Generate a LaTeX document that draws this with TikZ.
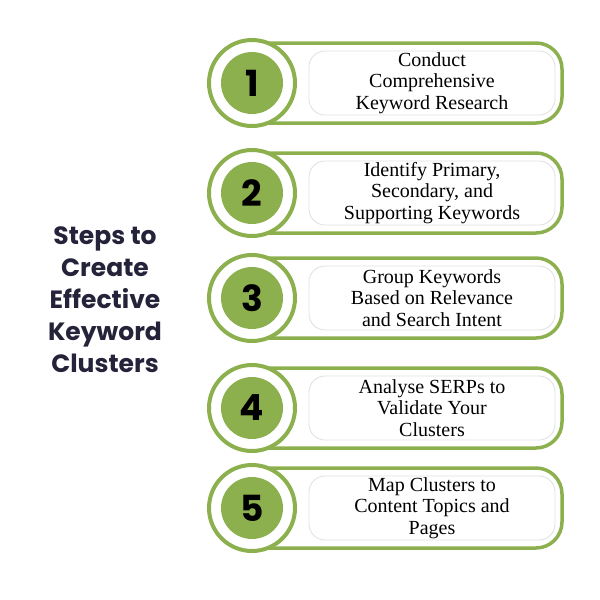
\documentclass[tikz,border=0pt]{standalone}
\usepackage{fontspec}
\setmainfont{Liberation Serif}
\newfontfamily\pop{Poppins}
\definecolor{grn}{HTML}{8DB04F}
\definecolor{ttl}{HTML}{24233A}
\begin{document}
\begin{tikzpicture}[x=1pt,y=-1pt,
 outer/.style={draw=grn,line width=3.5pt,fill=white,rounded corners=26pt},
 inner/.style={draw=black!12,line width=0.8pt,fill=white,rounded corners=16pt,minimum width=246pt,minimum height=64pt,align=center,font=\fontsize{20}{21.5}\selectfont,inner sep=0pt},
 ring/.style={circle,draw=grn,line width=4pt,fill=white,minimum size=86pt},
 disk/.style={circle,fill=grn,minimum size=62pt,font=\pop\bfseries\fontsize{36}{36}\selectfont,text=black,inner sep=0pt}]
\useasboundingbox (0,0) rectangle (600,600);
\node[font=\pop\bfseries\fontsize{25}{32}\selectfont,text=ttl,align=center] (title) at (105,300) {Steps to\\Create\\Effective\\Keyword\\Clusters};
\foreach \i/\y/\t in {1/83/{Conduct\\Comprehensive\\Keyword Research},
 2/193/{Identify Primary,\\Secondary, and\\Supporting Keywords},
 3/298/{Group Keywords\\Based on Relevance\\and Search Intent},
 4/408/{Analyse SERPs to\\Validate Your\\Clusters},
 5/508/{Map Clusters to\\Content Topics and\\Pages}}{
 \draw[outer] (230,\y-40) rectangle (562,\y+40);
 \node[inner] (box\i) at (432,\y) {\t};
 \node[ring] (ring\i) at (252,\y) {};
 \node[disk] (num\i) at (252,\y) {\i};
}
\end{tikzpicture}
\end{document}
